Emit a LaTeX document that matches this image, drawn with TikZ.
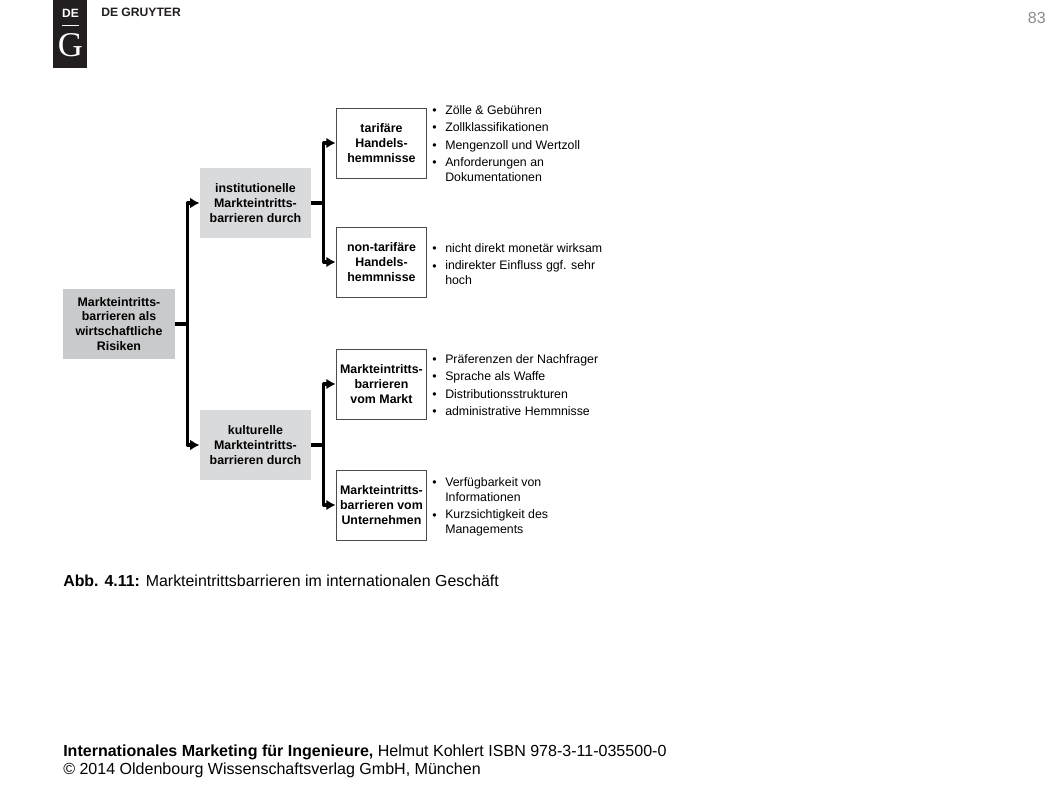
\documentclass[tikz,border=0pt]{standalone}
\usepackage{fontspec}
\setmainfont{Liberation Sans}
\newfontfamily\serifG{Liberation Serif}
\usetikzlibrary{arrows.meta}
\definecolor{boxgray}{HTML}{D9DADC}
\definecolor{rootgray}{HTML}{C9CACC}
\definecolor{logoblack}{HTML}{231F20}
\tikzset{
	filled/.style={fill=boxgray, minimum width=83.5pt, minimum height=52.5pt, inner sep=0pt, align=center, font=\fontsize{9.3}{11.2}\selectfont\bfseries},
	framed/.style={filled, fill=white, draw=black!70, line width=0.75pt, minimum width=68pt},
	conn/.style={line width=2.3pt, line join=round, -{Latex[length=7pt,width=8pt]}},
	branch/.style={line width=2.3pt},
	bullettext/.style={anchor=north west, inner sep=0pt, align=left, font=\fontsize{9.25}{11.2}\selectfont, execute at begin node=\rule{0pt}{7pt}},
	foot/.style={anchor=west, inner sep=0pt, font=\fontsize{12.03}{14}\selectfont}
}
\begin{document}
\begin{tikzpicture}[x=0.75pt, y=-0.75pt]
	\useasboundingbox (0,0) rectangle (1058,794);
	% logo
	\fill[logoblack] (53,0) rectangle (87,68);
	\node[inner sep=0pt, white, font=\fontsize{9}{9}\selectfont\bfseries] (logoDE) at (70.5,13) {DE};
	\draw[white, line width=0.6pt] (62,25.5) -- (79,25.5);
	\node[inner sep=0pt, white, font=\fontsize{26}{26}\serifG] (logoG) at (70.5,45.5) {G};
	\node[anchor=west, inner sep=0pt, logoblack, font=\fontsize{9.1}{9}\selectfont\bfseries] (gruyter) at (101,12.5) {DE GRUYTER};
	\node[anchor=east, inner sep=0pt, black!45, font=\fontsize{12}{12}\selectfont] (page) at (1046,18) {83};
	% boxes
	\node[filled, fill=rootgray] (root) at (119,324) {Markteintritts-\\barrieren als\\wirtschaftliche\\Risiken};
	\node[filled] (inst) at (255.5,203) {institutionelle\\Markteintritts-\\barrieren durch};
	\node[filled] (kult) at (255.5,445) {kulturelle\\Markteintritts-\\barrieren durch};
	\node[framed] (tarif) at (381.5,143) {tarifäre\\Handels-\\hemmnisse};
	\node[framed] (nontarif) at (381.5,262) {non-tarifäre\\Handels-\\hemmnisse};
	\node[framed] (markt) at (381.5,384) {Markteintritts-\\barrieren\\vom Markt};
	\node[framed] (unternehmen) at (381.5,505) {Markteintritts-\\barrieren vom\\Unternehmen};
	% connectors
	\draw[branch] (root.east) -- ++(12.5,0) coordinate (rootJ);
	\draw[branch] (inst.east) -- ++(12.5,0) coordinate (instJ);
	\draw[branch] (kult.east) -- ++(12.5,0) coordinate (kultJ);
	\draw[conn] (rootJ) |- (inst.west);
	\draw[conn] (rootJ) |- (kult.west);
	\draw[conn] (instJ) |- (tarif.west);
	\draw[conn] (instJ) |- (nontarif.west);
	\draw[conn] (kultJ) |- (markt.west);
	\draw[conn] (kultJ) |- (unternehmen.west);
	% lists
	\foreach \n/\y/\t in {a/104.5/Zölle \& Gebühren,b/122/Zollklassifikationen,c/139.5/Mengenzoll und Wertzoll,d/157/{Anforderungen an\\Dokumentationen},
		e/243/nicht direkt monetär wirksam,f/260.5/{indirekter Einfluss ggf. sehr\\hoch},
		g/353.5/Präferenzen der Nachfrager,h/371/Sprache als Waffe,i/388.5/Distributionsstrukturen,j/406/administrative Hemmnisse,
		k/477/{Verfügbarkeit von\\Informationen},l/509.5/{Kurzsichtigkeit des\\Managements}}
	{
		\node[bullettext] (item\n) at (445,\y) {\t};
		\node[bullettext] (dot\n) at (432,\y) {•};
	}
	% caption and footer
	\node[foot, font=\fontsize{11.94}{14}\selectfont] (caption) at (63,581) {\textbf{Abb. 4.11:} Markteintrittsbarrieren im internationalen Geschäft};
	\node[foot] (foot1) at (63,752) {\textbf{Internationales Marketing für Ingenieure,} Helmut Kohlert ISBN 978-3-11-035500-0};
	\node[foot] (foot2) at (63,770.5) {© 2014 Oldenbourg Wissenschaftsverlag GmbH, München};
\end{tikzpicture}
\end{document}
